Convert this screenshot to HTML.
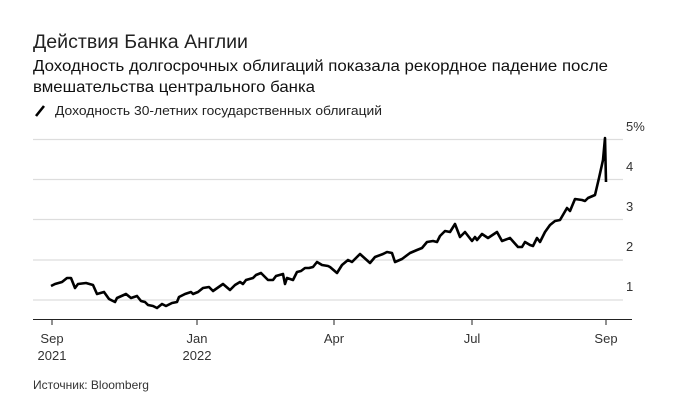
<!DOCTYPE html>
<html><head><meta charset="utf-8"><style>
html,body{margin:0;padding:0;background:#fff;}
svg{display:block;font-family:"Liberation Sans","DejaVu Sans",sans-serif;}
</style></head><body>
<svg width="675" height="417" viewBox="0 0 675 417" xmlns="http://www.w3.org/2000/svg">
<text x="33" y="48" font-size="19" fill="#222" textLength="215" lengthAdjust="spacingAndGlyphs">Действия Банка Англии</text>
<text x="33" y="71" font-size="16" fill="#111" textLength="575" lengthAdjust="spacingAndGlyphs">Доходность долгосрочных облигаций показала рекордное падение после</text>
<text x="33" y="92" font-size="16" fill="#111" textLength="282" lengthAdjust="spacingAndGlyphs">вмешательства центрального банка</text>
<line x1="36" y1="116" x2="44" y2="106" stroke="#000" stroke-width="2.6"/>
<text x="55" y="115" font-size="13" fill="#222" textLength="327" lengthAdjust="spacingAndGlyphs">Доходность 30-летних государственных облигаций</text>
<g stroke="#ddd" stroke-width="1.3">
<line x1="33" y1="139.5" x2="623" y2="139.5"/>
<line x1="33" y1="179.5" x2="623" y2="179.5"/>
<line x1="33" y1="219.5" x2="623" y2="219.5"/>
<line x1="33" y1="260" x2="623" y2="260"/>
<line x1="33" y1="300" x2="623" y2="300"/>
</g>
<line x1="33" y1="319.5" x2="632" y2="319.5" stroke="#222" stroke-width="1"/>
<g stroke="#222" stroke-width="1">
<line x1="52" y1="319" x2="52" y2="325"/>
<line x1="197" y1="319" x2="197" y2="325"/>
<line x1="334" y1="319" x2="334" y2="325"/>
<line x1="472" y1="319" x2="472" y2="325"/>
<line x1="606" y1="319" x2="606" y2="325"/>
</g>
<g font-size="13" fill="#333">
<text x="626" y="131">5%</text>
<text x="626" y="171">4</text>
<text x="626" y="211">3</text>
<text x="626" y="251">2</text>
<text x="626" y="291">1</text>
<text x="52" y="343" text-anchor="middle">Sep</text>
<text x="52" y="360" text-anchor="middle">2021</text>
<text x="197" y="343" text-anchor="middle">Jan</text>
<text x="197" y="360" text-anchor="middle">2022</text>
<text x="334" y="343" text-anchor="middle">Apr</text>
<text x="472" y="343" text-anchor="middle">Jul</text>
<text x="606" y="343" text-anchor="middle">Sep</text>
</g>
<text x="33" y="389" font-size="12" fill="#333">Источник: Bloomberg</text>
<polyline fill="none" stroke="#000" stroke-width="2.6" stroke-linejoin="round" points="51,286 55,284 62,282 67,278 71,278 75,288 78,284 86,283 93,285 97,294 104,292 109,299 115,302 117,298 126,294 131,298 137,296 141,301 145,302 148,305 153,306 157,308 162,304 166,306 172,303 177,302 179,297 185,294 191,292 193,294 198,292 203,288 209,287 213,291 223,284 230,290 235,285 240,282 243,284 246,280 253,278 256,275 261,273 268,280 273,280 276,276 283,274 285,284 287,278 293,280 297,272 301,271 305,268 309,268 313,267 317,262 322,265 328,266 330,267 337,273 342,265 348,260 352,262 360,254 370,263 375,257 383,254 387,252 392,253 395,262 402,259 410,253 417,250 422,248 427,242 433,241 437,242 440,236 445,231 450,232 455,224 460,237 465,232 472,241 475,237 477,240 482,234 488,238 497,232 502,241 510,238 518,247 522,247 525,242 530,245 533,246 537,238 540,242 545,232 550,225 555,221 560,220 567,208 570,211 575,199 582,200 585,201 588,198 595,195 599,178 603,160 605,138 606,182"/>
</svg>
</body></html>
